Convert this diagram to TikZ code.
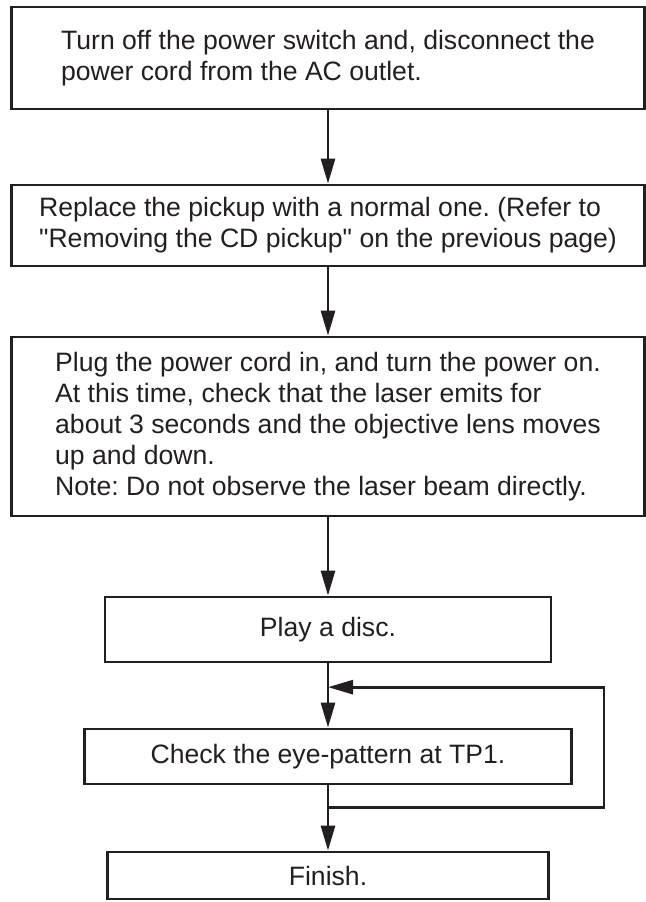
\documentclass[tikz,border=0pt]{standalone}
\usepackage{fontspec}
\setmainfont{Liberation Sans}
\usetikzlibrary{positioning, arrows.meta, calc}
\definecolor{inkline}{HTML}{231F20}

\begin{document}
\frenchspacing
\begin{tikzpicture}[x=0.5pt, y=-0.5pt, line join=miter,
    font=\fontsize{13.3}{15.5}\selectfont,
    stepbox/.style={draw=inkline, line width=1.4pt, inner sep=0pt, text=inkline},
    flow/.style={draw=inkline, line width=1.4pt, -{Triangle[length=12.5pt, width=7pt]}}]
    \useasboundingbox (0,0) rectangle (646,902);
    \node[stepbox, minimum width=316.5pt, minimum height=51pt, align=left] (b1) at (328,58)
      {Turn off the power switch and, disconnect the\\ power cord from the AC outlet.};
    \node[stepbox, minimum width=316.5pt, minimum height=40.5pt, align=left] (b2) at (328,225.5)
      {Replace the pickup with a normal one. (Refer to\\ \textquotedbl Removing the CD pickup\textquotedbl\ on the previous page)};
    \node[stepbox, minimum width=316.5pt, minimum height=89.5pt, align=left] (b3) at (328,426.5)
      {Plug the power cord in, and turn the power on.\\ At this time, check that the laser emits for\\
       about 3 seconds and the objective lens moves\\ up and down.\\ Note: Do not observe the laser beam directly.};
    \node[stepbox, minimum width=223pt, minimum height=32.5pt] (b4) at (328,629.5) {Play a disc.};
    \node[stepbox, minimum width=243.5pt, minimum height=27.5pt] (b5) at (328,756.5) {Check the eye-pattern at TP1.};
    \node[stepbox, minimum width=220.5pt, minimum height=23.5pt] (b6) at (328,875.5) {Finish.};
    \foreach \a/\b in {b1/b2, b2/b3, b3/b4, b4/b5, b5/b6}
      \draw[flow] (\a) -- (\b);
    \coordinate (loopout) at ($(b5.south)!0.34!(b6.north)$);
    \coordinate (loopin) at ($(b4.south)!0.37!(b5.north)$);
    \draw[flow] (loopout) -- ++(276,0) |- (loopin);
  \end{tikzpicture}
\end{document}
